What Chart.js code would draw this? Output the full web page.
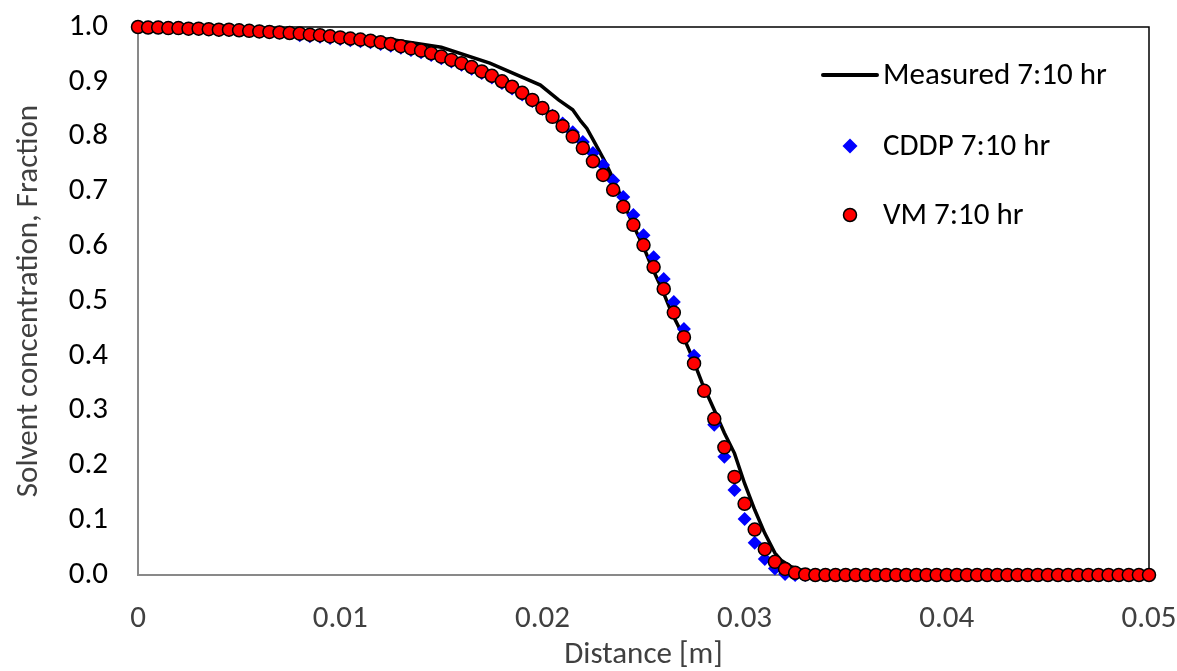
<!DOCTYPE html>
<html lang="en">
<head>
  <meta charset="UTF-8" />
  <title>Solvent Concentration Profile</title>
  <script src="https://cdn.jsdelivr.net/npm/chart.js@4.4.0/dist/chart.umd.min.js"></script>
  <style>
    html, body {
      margin: 0;
      padding: 0;
      background: #ffffff;
    }
    canvas {
      display: block;
    }
  </style>
</head>
<body>

  <canvas id="profileChart" width="1177" height="671"></canvas>

  <script>
    // Distance grid of the simulated profiles [m]
    const distance = [
      0, 0.0005, 0.001, 0.0015, 0.002, 0.0025, 0.003, 0.0035, 0.004, 0.0045,
      0.005, 0.0055, 0.006, 0.0065, 0.007, 0.0075, 0.008, 0.0085, 0.009, 0.0095,
      0.01, 0.0105, 0.011, 0.0115, 0.012, 0.0125, 0.013, 0.0135, 0.014, 0.0145,
      0.015, 0.0155, 0.016, 0.0165, 0.017, 0.0175, 0.018, 0.0185, 0.019, 0.0195,
      0.02, 0.0205, 0.021, 0.0215, 0.022, 0.0225, 0.023, 0.0235, 0.024, 0.0245,
      0.025, 0.0255, 0.026, 0.0265, 0.027, 0.0275, 0.028, 0.0285, 0.029, 0.0295,
      0.03, 0.0305, 0.031, 0.0315, 0.032, 0.0325, 0.033, 0.0335, 0.034, 0.0345,
      0.035, 0.0355, 0.036, 0.0365, 0.037, 0.0375, 0.038, 0.0385, 0.039, 0.0395,
      0.04, 0.0405, 0.041, 0.0415, 0.042, 0.0425, 0.043, 0.0435, 0.044, 0.0445,
      0.045, 0.0455, 0.046, 0.0465, 0.047, 0.0475, 0.048, 0.0485, 0.049, 0.0495,
      0.05
    ];

    const vmValues = [
      1.000, 0.999, 0.999, 0.998, 0.998, 0.997, 0.997, 0.996, 0.995, 0.995,
      0.994, 0.993, 0.992, 0.991, 0.990, 0.989, 0.988, 0.986, 0.985, 0.983,
      0.981, 0.979, 0.977, 0.975, 0.972, 0.969, 0.965, 0.961, 0.957, 0.952,
      0.946, 0.940, 0.934, 0.927, 0.919, 0.911, 0.901, 0.891, 0.880, 0.867,
      0.852, 0.836, 0.819, 0.800, 0.779, 0.755, 0.730, 0.703, 0.672, 0.639,
      0.602, 0.562, 0.522, 0.479, 0.434, 0.386, 0.336, 0.285, 0.233, 0.179,
      0.130, 0.083, 0.047, 0.024, 0.011, 0.004, 0.001, 0, 0, 0,
      0, 0, 0, 0, 0, 0, 0, 0, 0, 0,
      0, 0, 0, 0, 0, 0, 0, 0, 0, 0,
      0, 0, 0, 0, 0, 0, 0, 0, 0, 0,
      0
    ];

    const cddpValues = [
      1.000, 0.999, 0.999, 0.998, 0.998, 0.997, 0.997, 0.996, 0.995, 0.995,
      0.994, 0.993, 0.992, 0.991, 0.990, 0.989, 0.985, 0.983, 0.982, 0.980,
      0.978, 0.976, 0.974, 0.972, 0.969, 0.966, 0.962, 0.958, 0.954, 0.949,
      0.943, 0.937, 0.931, 0.924, 0.916, 0.908, 0.898, 0.888, 0.877, 0.865,
      0.851, 0.838, 0.824, 0.808, 0.790, 0.770, 0.748, 0.720, 0.690, 0.657,
      0.620, 0.580, 0.540, 0.498, 0.449, 0.400, 0.336, 0.274, 0.216, 0.155,
      0.102, 0.059, 0.029, 0.012, 0.002, 0, 0, 0, 0, 0,
      0, 0, 0, 0, 0, 0, 0, 0, 0, 0,
      0, 0, 0, 0, 0, 0, 0, 0, 0, 0,
      0, 0, 0, 0, 0, 0, 0, 0, 0, 0,
      0
    ];

    // Measured profile
    const measuredDistance = [
      0, 0.003, 0.006, 0.008, 0.010, 0.0125, 0.015, 0.0174, 0.0199, 0.0208,
      0.0215, 0.0219, 0.0222, 0.0226, 0.0231, 0.0235, 0.0239, 0.0242, 0.0246, 0.0250,
      0.0254, 0.0259, 0.0264, 0.0269, 0.0274, 0.0279, 0.0285, 0.0290, 0.0295, 0.0300,
      0.0305, 0.0310, 0.0315, 0.0318, 0.0323, 0.0329, 0.0338, 0.0349, 0.040, 0.045,
      0.050
    ];
    const measuredValues = [
      1.000, 0.999, 0.996, 0.993, 0.987, 0.977, 0.963, 0.934, 0.894, 0.867,
      0.849, 0.828, 0.815, 0.788, 0.754, 0.723, 0.690, 0.663, 0.630, 0.599,
      0.563, 0.523, 0.478, 0.441, 0.398, 0.350, 0.301, 0.259, 0.222, 0.167,
      0.119, 0.076, 0.040, 0.027, 0.015, 0.008, 0.003, 0, 0, 0,
      0
    ];

    const seriesNames = ['Measured 7:10 hr', 'CDDP 7:10 hr', 'VM 7:10 hr'];

    const xTickValues = [0, 0.01, 0.02, 0.03, 0.04, 0.05];
    const xTickLabels = ['0', '0.01', '0.02', '0.03', '0.04', '0.05'];
    const yTickValues = [0, 0.1, 0.2, 0.3, 0.4, 0.5, 0.6, 0.7, 0.8, 0.9, 1.0];
    const yTickLabels = ['0.0', '0.1', '0.2', '0.3', '0.4', '0.5', '0.6', '0.7', '0.8', '0.9', '1.0'];

    const FONT = 'Carlito, Lato, "Open Sans", sans-serif';
    const FONT_SIZE = 31;

    const toPoints = (xs, ys) => xs.map((x, i) => ({ x: x, y: ys[i] }));

    // frame: black top/right, grey axis lines left/bottom
    const framePlugin = {
      id: 'frame',
      beforeDatasetsDraw(chart) {
        const { ctx, chartArea: a } = chart;
        ctx.save();
        ctx.strokeStyle = '#000000';
        ctx.lineWidth = 1.5;
        ctx.beginPath();
        ctx.moveTo(a.left, a.top);
        ctx.lineTo(a.right, a.top);
        ctx.lineTo(a.right, a.bottom);
        ctx.stroke();
        ctx.strokeStyle = '#898989';
        ctx.lineWidth = 2;
        ctx.beginPath();
        ctx.moveTo(a.left, a.top);
        ctx.lineTo(a.left, a.bottom);
        ctx.lineTo(a.right, a.bottom);
        ctx.stroke();
        ctx.restore();
      }
    };

    // legend drawn inside the plot area, top right
    const insideLegend = {
      id: 'insideLegend',
      afterDraw(chart) {
        const { ctx, chartArea: a } = chart;
        const symX = a.right - 299;
        const textX = a.right - 266;
        const rows = [a.top + 48, a.top + 119, a.top + 188];
        ctx.save();
        ctx.font = FONT_SIZE + 'px ' + FONT;
        ctx.textBaseline = 'middle';
        ctx.textAlign = 'left';

        ctx.strokeStyle = '#000000';
        ctx.lineWidth = 4;
        ctx.lineCap = 'round';
        ctx.beginPath();
        ctx.moveTo(symX - 27, rows[0]);
        ctx.lineTo(symX + 27, rows[0]);
        ctx.stroke();

        ctx.fillStyle = '#0000ff';
        ctx.beginPath();
        ctx.moveTo(symX, rows[1] - 7.5);
        ctx.lineTo(symX + 7.5, rows[1]);
        ctx.lineTo(symX, rows[1] + 7.5);
        ctx.lineTo(symX - 7.5, rows[1]);
        ctx.closePath();
        ctx.fill();

        ctx.fillStyle = '#ff0000';
        ctx.strokeStyle = '#000000';
        ctx.lineWidth = 1.5;
        ctx.beginPath();
        ctx.arc(symX, rows[2], 6.5, 0, Math.PI * 2);
        ctx.fill();
        ctx.stroke();

        ctx.fillStyle = '#000000';
        seriesNames.forEach((name, i) => ctx.fillText(name, textX, rows[i] + 1));
        ctx.restore();
      }
    };

    const ctx = document.getElementById('profileChart').getContext('2d');

    new Chart(ctx, {
      type: 'scatter',
      data: {
        datasets: [
          {
            label: seriesNames[0],
            data: toPoints(measuredDistance, measuredValues),
            showLine: true,
            borderColor: '#000000',
            borderWidth: 3.5,
            pointRadius: 0,
            tension: 0,
            clip: false,
            order: 3
          },
          {
            label: seriesNames[1],
            data: toPoints(distance, cddpValues),
            pointStyle: 'rectRot',
            pointRadius: 7,
            backgroundColor: '#0000ff',
            borderColor: '#0000ff',
            borderWidth: 0,
            clip: false,
            order: 2
          },
          {
            label: seriesNames[2],
            data: toPoints(distance, vmValues),
            pointStyle: 'circle',
            pointRadius: 6.5,
            backgroundColor: '#ff0000',
            borderColor: '#000000',
            borderWidth: 1.5,
            clip: false,
            order: 1
          }
        ]
      },
      options: {
        responsive: false,
        animation: false,
        events: [],
        layout: { padding: { top: 27, right: 28, left: 0, bottom: 0 } },
        plugins: {
          legend: { display: false },
          tooltip: { enabled: false }
        },
        scales: {
          x: {
            type: 'linear',
            min: 0,
            max: 0.05,
            afterFit: (scale) => {
              scale.height = 96;
              scale.paddingLeft = 0;
              scale.paddingRight = 0;
            },
            afterBuildTicks: (scale) => { scale.ticks = xTickValues.map(v => ({ value: v })); },
            grid: { display: false, drawTicks: false },
            border: { display: false },
            ticks: {
              padding: 26,
              color: '#404040',
              font: { family: FONT, size: FONT_SIZE },
              maxRotation: 0,
              callback: (value, index) => xTickLabels[index]
            },
            title: {
              display: true,
              text: 'Distance [m]',
              color: '#404040',
              font: { family: FONT, size: FONT_SIZE, lineHeight: 1.0 },
              padding: { top: 0, bottom: 0 }
            }
          },
          y: {
            type: 'linear',
            min: 0,
            max: 1,
            afterFit: (scale) => {
              scale.width = 138;
              scale.paddingTop = 0;
              scale.paddingBottom = 0;
            },
            afterBuildTicks: (scale) => { scale.ticks = yTickValues.map(v => ({ value: v })); },
            grid: { display: false, drawTicks: false },
            border: { display: false },
            ticks: {
              padding: 30,
              color: '#000000',
              font: { family: FONT, size: FONT_SIZE },
              callback: (value, index) => yTickLabels[index]
            },
            title: {
              display: true,
              text: 'Solvent concentration, Fraction',
              color: '#404040',
              font: { family: FONT, size: FONT_SIZE, lineHeight: 1.0 },
              padding: { top: 14, bottom: 0 }
            }
          }
        }
      },
      plugins: [framePlugin, insideLegend]
    });
  </script>

</body>
</html>
